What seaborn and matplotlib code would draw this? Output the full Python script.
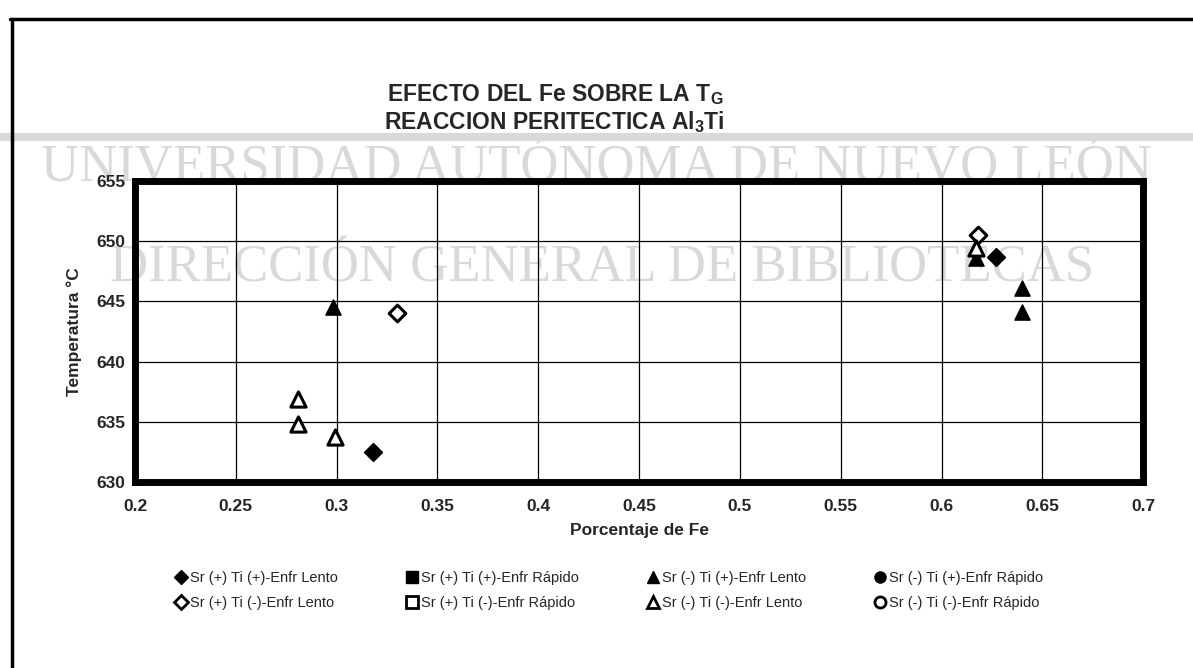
import matplotlib
matplotlib.use("Agg")
import matplotlib.pyplot as plt
from matplotlib.lines import Line2D
import seaborn as sns

# x = Porcentaje de Fe, y = Temperatura (°C)
fd_x = [0.318, 0.627]            # Sr(+) Ti(+) Enfr Lento  (filled diamond)
fd_y = [632.5, 648.7]
ft_x = [0.298, 0.617, 0.640, 0.640]  # Sr(-) Ti(+) Enfr Lento  (filled triangle)
ft_y = [644.5, 648.6, 646.1, 644.1]
od_x = [0.330, 0.618]            # Sr(+) Ti(-) Enfr Lento  (open diamond)
od_y = [644.0, 650.5]
ot_x = [0.281, 0.281, 0.299, 0.617]  # Sr(-) Ti(-) Enfr Lento  (open triangle)
ot_y = [636.9, 634.8, 633.7, 649.4]

x_ticks = [0.2, 0.25, 0.3, 0.35, 0.4, 0.45, 0.5, 0.55, 0.6, 0.65, 0.7]
x_tick_labels = ["0.2", "0.25", "0.3", "0.35", "0.4", "0.45", "0.5", "0.55", "0.6", "0.65", "0.7"]
y_ticks = [630, 635, 640, 645, 650, 655]

legend_labels = [
    "Sr (+) Ti (+)-Enfr Lento", "Sr (+) Ti (-)-Enfr Lento",
    "Sr (+) Ti (+)-Enfr Rápido", "Sr (+) Ti (-)-Enfr Rápido",
    "Sr (-) Ti (+)-Enfr Lento", "Sr (-) Ti (-)-Enfr Lento",
    "Sr (-) Ti (+)-Enfr Rápido", "Sr (-) Ti (-)-Enfr Rápido",
]

sns.set_style("white")
plt.rcParams['font.family'] = ['Liberation Sans', 'DejaVu Sans']

fig = plt.figure(figsize=(11.93, 6.68), dpi=100)
ax = fig.add_axes([0.1132, 0.2784, 0.8450, 0.4506])
ax.set_facecolor("none")

# watermark of the scanned page
wm = "#d9d9d9"
fig.text(0.50, 0.748, "UNIVERSIDAD AUTÓNOMA DE NUEVO LEÓN", fontsize=38, color=wm,
         family="Liberation Serif", ha="center", va="center", zorder=-5)
fig.text(0.505, 0.598, "DIRECCIÓN GENERAL DE BIBLIOTECAS", fontsize=38, color=wm,
         family="Liberation Serif", ha="center", va="center", zorder=-5)
fig.add_artist(Line2D([0, 1], [0.795, 0.795], color=wm, lw=6, zorder=-5))

# page frame
fig.add_artist(Line2D([0.008, 1.0], [0.972, 0.972], color="black", lw=2.5))
fig.add_artist(Line2D([0.010, 0.010], [0.0, 0.972], color="black", lw=2.5))

ms = 120
sns.scatterplot(x=fd_x, y=fd_y, marker="D", s=ms * 0.7, color="black",
                edgecolor="black", linewidth=1, ax=ax, zorder=5)
sns.scatterplot(x=ft_x, y=ft_y, marker="^", s=ms, color="black",
                edgecolor="black", linewidth=1, ax=ax, zorder=5)
sns.scatterplot(x=od_x, y=od_y, marker="D", s=ms * 0.6, color="white",
                edgecolor="black", linewidth=2.2, ax=ax, zorder=5)
sns.scatterplot(x=ot_x, y=ot_y, marker="^", s=ms, color="white",
                edgecolor="black", linewidth=2.2, ax=ax, zorder=5)

ax.set_xlim(0.2, 0.7)
ax.set_ylim(630, 655)
ax.set_xticks(x_ticks)
ax.set_xticklabels(x_tick_labels)
ax.set_yticks(y_ticks)
ax.grid(True, color="black", lw=0.9)
ax.tick_params(axis="x", length=0, labelsize=12.5, pad=12)
ax.tick_params(axis="y", length=0, labelsize=12.5, pad=7)
for lab in ax.get_xticklabels() + ax.get_yticklabels():
    lab.set_fontweight("bold")
for sp in ax.spines.values():
    sp.set_visible(True)
    sp.set_color("black")
    sp.set_linewidth(5)

ax.set_xlabel("Porcentaje de Fe", fontsize=12.5, fontweight="bold", labelpad=7)
ax.set_ylabel("Temperatura °C", fontsize=12.5, fontweight="bold", labelpad=10)

fig.text(0.465, 0.859, "EFECTO DEL Fe SOBRE LA T$_\\mathregular{G}$", fontsize=16.5,
         fontweight="bold", ha="center", va="center")
fig.text(0.465, 0.817, "REACCION PERITECTICA Al$_\\mathregular{3}$Ti", fontsize=16.5,
         fontweight="bold", ha="center", va="center")

handles = [
    Line2D([], [], ls="", marker="D", ms=7, mfc="black", mec="black"),
    Line2D([], [], ls="", marker="D", ms=7, mfc="white", mec="black", mew=2),
    Line2D([], [], ls="", marker="s", ms=8, mfc="black", mec="black"),
    Line2D([], [], ls="", marker="s", ms=8, mfc="white", mec="black", mew=2),
    Line2D([], [], ls="", marker="^", ms=9, mfc="black", mec="black"),
    Line2D([], [], ls="", marker="^", ms=9, mfc="white", mec="black", mew=2),
    Line2D([], [], ls="", marker="o", ms=8, mfc="black", mec="black"),
    Line2D([], [], ls="", marker="o", ms=8, mfc="white", mec="black", mew=2),
]
fig.legend(handles, legend_labels, ncol=4, loc="center", bbox_to_anchor=(0.51, 0.116),
           frameon=False, fontsize=10.5, handletextpad=0.1, columnspacing=4.6,
           labelspacing=0.75, handlelength=1.0)

fig.savefig("out.png", dpi=100)
